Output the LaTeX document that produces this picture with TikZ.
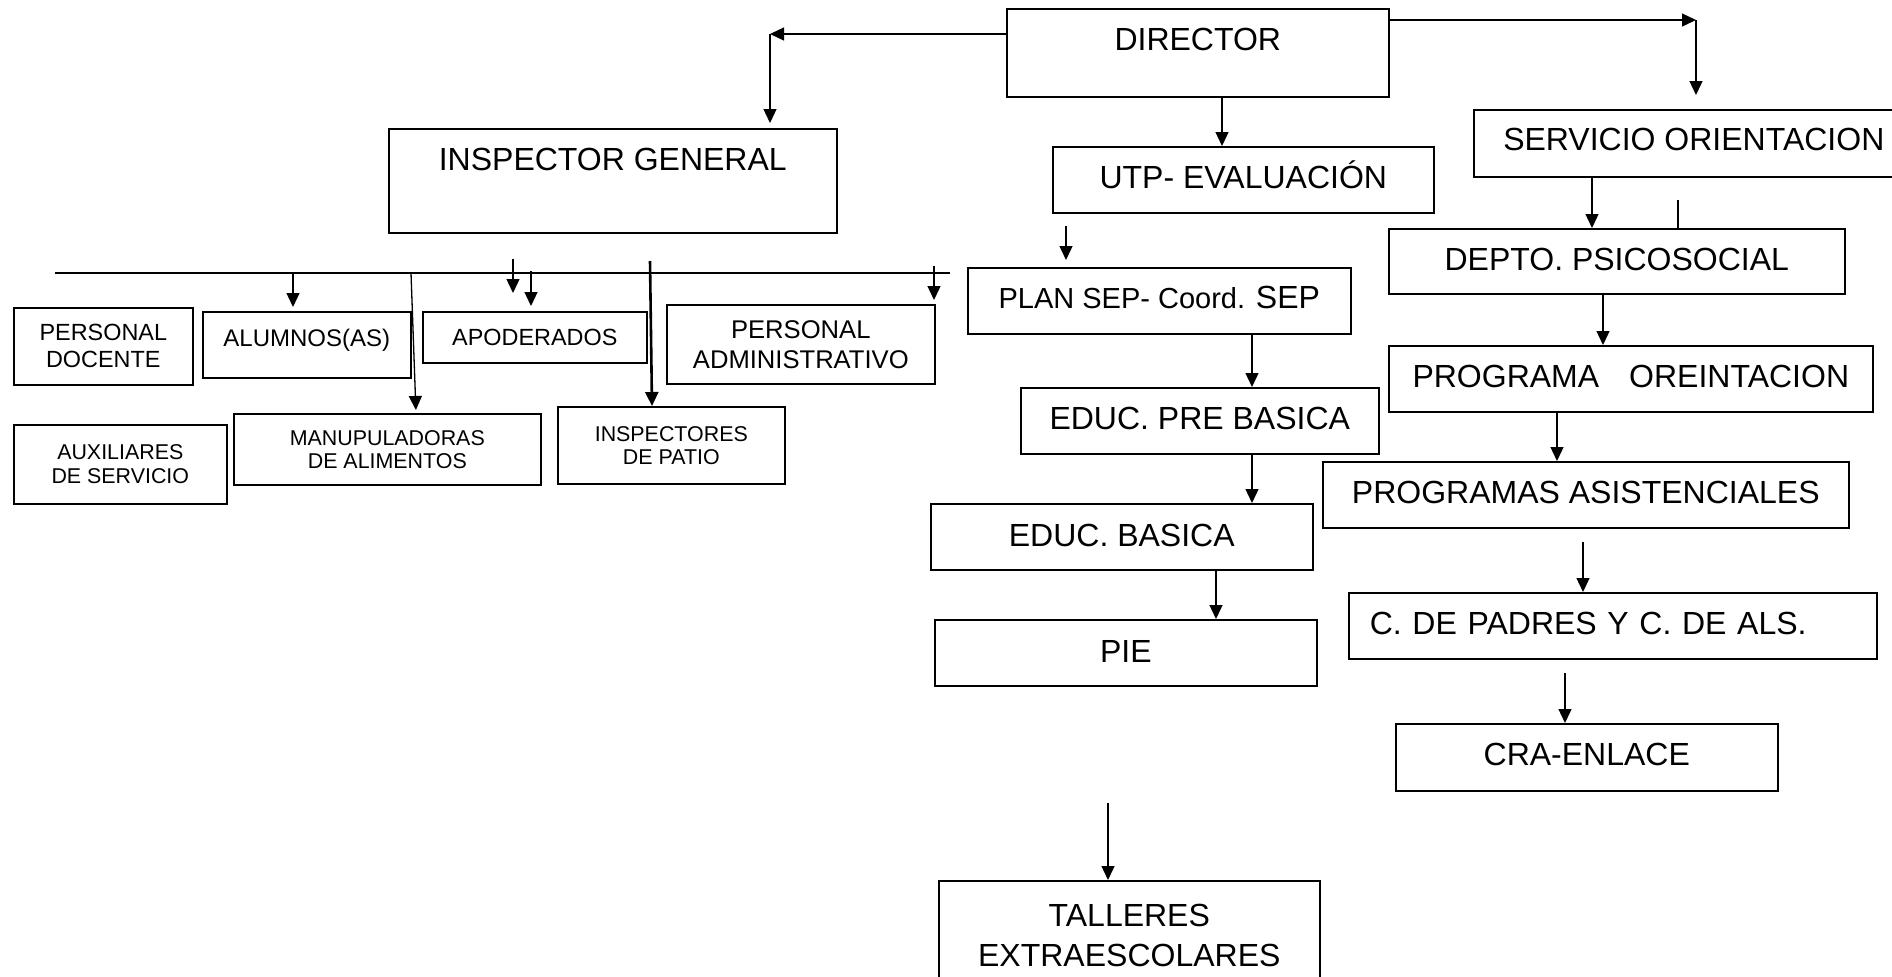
\documentclass[tikz,border=0pt]{standalone}
\usepackage{fontspec}
\setmainfont{Liberation Sans}
\usetikzlibrary{arrows.meta}

\begin{document}
\begin{tikzpicture}[x=0.5pt, y=-0.5pt,
  box/.style={draw, line width=0.8pt, anchor=north west, inner xsep=0pt, inner ysep=0pt,
    text height=20.75pt, text depth=12.25pt, font=\fontsize{16}{20}\selectfont},
  tallbox/.style={draw, line width=0.8pt, anchor=north west, inner sep=0pt, align=center},
  arr/.style={-{Triangle[length=7pt,width=6.5pt]}, line width=0.65pt},
  link/.style={line width=0.65pt}]
\useasboundingbox (0,0) rectangle (1892,976);
\node[box, minimum width=191pt, text depth=23.25pt] (dir) at (1006,8) {DIRECTOR};
\node[box, minimum width=224pt, text depth=31.25pt] (ig) at (388,128) {INSPECTOR GENERAL};
\node[box, minimum width=190.5pt] (utp) at (1052,146) {UTP- EVALUACIÓN};
\node[box, minimum width=220pt, text height=20.5pt, text depth=13pt] (so) at (1473,109) {SERVICIO ORIENTACION};
\node[box, minimum width=228pt, text depth=11.75pt] (dps) at (1388,228) {DEPTO. PSICOSOCIAL};
\node[box, minimum width=242pt] (po) at (1388,345) {PROGRAMA\hspace{15pt}OREINTACION};
\node[box, minimum width=263pt] (pa) at (1322,461) {PROGRAMAS ASISTENCIALES};
\node[box, minimum width=264pt, inner xsep=10.5pt, text width=243pt, align=left] (cp) at (1348,592) {C. DE PADRES Y C. DE ALS.};
\node[box, minimum width=191pt, text depth=12.75pt] (cra) at (1395,723) {CRA-ENLACE};
\node[box, minimum width=191.5pt, text height=20.2pt, text depth=12.8pt] (sep) at (967,267) {\fontsize{14.5}{18}\selectfont PLAN SEP- Coord. \fontsize{16}{20}\selectfont SEP};
\node[box, minimum width=179pt, text height=21pt, text depth=12pt] (epb) at (1020,387) {EDUC. PRE BASICA};
\node[box, minimum width=191pt, text height=21.5pt, text depth=11.5pt] (eb) at (930,503) {EDUC. BASICA};
\node[box, minimum width=191pt, text height=21.25pt, text depth=11.75pt] (pie) at (934,619) {PIE};
\node[tallbox, minimum width=190.5pt, minimum height=55pt, font=\fontsize{16}{20}\selectfont] (te) at (938,880) {TALLERES\\EXTRAESCOLARES};
\node[tallbox, minimum width=89.5pt, minimum height=38.5pt, font=\fontsize{11.7}{13.5}\selectfont] (pd) at (13,307) {PERSONAL\\DOCENTE};
\node[box, minimum width=104pt, text height=17.3pt, text depth=15.7pt, font=\fontsize{12}{14}\selectfont] (al) at (202,311) {ALUMNOS(AS)};
\node[box, minimum width=112pt, text height=16.8pt, text depth=8.7pt, font=\fontsize{11.7}{14}\selectfont] (ap) at (422,311) {APODERADOS};
\node[tallbox, minimum width=134pt, minimum height=39.5pt, font=\fontsize{12.8}{15}\selectfont] (pad) at (666,304) {PERSONAL\\ADMINISTRATIVO};
\node[tallbox, minimum width=106.5pt, minimum height=39.5pt, font=\fontsize{10.7}{12}\selectfont] (aux) at (13,424) {AUXILIARES\\DE SERVICIO};
\node[tallbox, minimum width=153.5pt, minimum height=35.5pt, font=\fontsize{10.7}{11.5}\selectfont] (man) at (233,413) {MANUPULADORAS\\DE ALIMENTOS};
\node[tallbox, minimum width=113.5pt, minimum height=38.5pt, font=\fontsize{10.7}{11.5}\selectfont] (ip) at (557,406) {INSPECTORES\\DE PATIO};
\coordinate (dl) at (770,34);
\coordinate (dr) at (1696,20);
\coordinate (c1) at (1222,0);
\coordinate (c2) at (1066,226);
\coordinate (c3) at (1592,0);
\coordinate (c4) at (1678,200);
\coordinate (c5) at (1603,0);
\coordinate (c6) at (1557,0);
\coordinate (c7) at (1583,542);
\coordinate (c8) at (1565,673);
\coordinate (c9) at (1252,0);
\coordinate (c10) at (1216,0);
\coordinate (c11) at (1108,803);
\coordinate (bw) at (55,273);
\coordinate (be) at (950,273);
\coordinate (b1) at (293,273);
\coordinate (b2) at (411,273);
\coordinate (b3) at (416,0);
\coordinate (b4) at (513,259);
\coordinate (b5) at (531,271);
\coordinate (b6) at (650,261);
\coordinate (b7) at (652,0);
\coordinate (b8) at (934,266);
\draw[arr] (dir.west |- dl) -- (dl);
\draw[arr, shorten >=2.5pt] (dl) -- (dl |- ig.north);
\draw[arr] (dir.east |- dr) -- (dr);
\draw[arr, shorten >=7pt] (dr) -- (dr |- so.north);
\draw[arr] (dir.south -| c1) -- (utp.north -| c1);
\draw[arr, shorten >=3.5pt] (c2) -- (c2 |- sep.north);
\draw[arr] (so.south -| c3) -- (dps.north -| c3);
\draw[link] (c4) -- (c4 |- dps.north);
\draw[arr] (dps.south -| c5) -- (po.north -| c5);
\draw[arr] (po.south -| c6) -- (pa.north -| c6);
\draw[arr] (c7) -- (c7 |- cp.north);
\draw[arr] (c8) -- (c8 |- cra.north);
\draw[arr] (sep.south -| c9) -- (epb.north -| c9);
\draw[arr] (epb.south -| c9) -- (eb.north -| c9);
\draw[arr] (eb.south -| c10) -- (pie.north -| c10);
\draw[arr] (c11) -- (c11 |- te.north);
\draw[line width=0.9pt] (bw) -- (be);
\draw[arr, shorten >=2pt] (b1) -- (b1 |- al.north);
\draw[arr, shorten >=1.5pt] (b2) -- (b3 |- man.north);
\draw[arr, shorten >=9pt] (b4) -- (b4 |- ap.north);
\draw[arr, shorten >=2.5pt] (b5) -- (b5 |- ap.north);
\draw[arr, line width=1.3pt] (b6) -- (b7 |- ip.north);
\draw[arr, shorten >=2pt] (b8) -- (b8 |- pad.north);
\end{tikzpicture}
\end{document}
